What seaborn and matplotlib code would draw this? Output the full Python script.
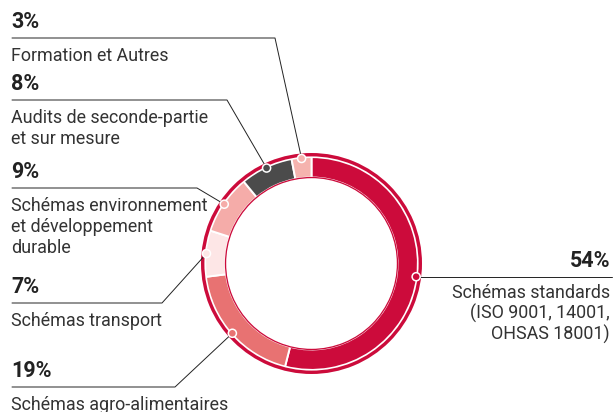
import numpy as np
import matplotlib
matplotlib.use("Agg")
import matplotlib.pyplot as plt
import seaborn as sns
import pandas as pd

# ---- data ----
categories = [
    "Schémas standards\n(ISO 9001, 14001,\nOHSAS 18001)",
    "Schémas agro-alimentaires",
    "Schémas transport",
    "Schémas environnement\net développement\ndurable",
    "Audits de seconde-partie\net sur mesure",
    "Formation et Autres",
]
shares = [54, 19, 7, 9, 8, 3]
pct_labels = ["54%", "19%", "7%", "9%", "8%", "3%"]

# ---- styles ----
RED = "#cc0b3b"
seg_colors = [RED, "#e87272", "#fde6e6", "#f5aca9", "#4b4b4b", "#f5b3ae"]

sns.set_theme(style="white")
plt.rcParams["font.family"] = ["Roboto", "DejaVu Sans"]

W, H = 613, 412
fig = plt.figure(figsize=(W / 100, H / 100), dpi=100)
ax = fig.add_axes([0, 0, 1, 1])

cx, cy_pix = 311.5, 263.5
cy = H - cy_pix
R_out = 110.5
R_seg = 106.4
R_in = 86.0

# segments
ax.pie(shares, radius=R_seg, center=(cx, cy), startangle=90, counterclock=False,
       colors=seg_colors,
       wedgeprops=dict(width=R_seg - R_in, edgecolor="white", linewidth=1.4))
# outer thin ring
ax.pie([1], radius=R_out, center=(cx, cy), colors=[RED],
       wedgeprops=dict(width=3.4, linewidth=0))
# inner thin red line
ax.pie([1], radius=R_in + 0.6, center=(cx, cy), colors=[RED],
       wedgeprops=dict(width=1.3, linewidth=0))

# marker positions at segment midpoints
vals = np.array(shares, dtype=float)
cum = np.cumsum(vals) - vals / 2
ang = np.deg2rad(90 - cum / vals.sum() * 360)
R_mark = 105.5
mx = cx + R_mark * np.cos(ang)
my = cy + R_mark * np.sin(ang)

# layout for labels: (line y in pixel, elbow x, side)
layout = [
    (271.7, None, "right"),
    (387.0, 175, "left"),
    (303.0, 162, "left"),
    (188.0, 197, "left"),
    (100.0, 227, "left"),
    (38.0, 275, "left"),
]
LINE_C = "#222222"
FS_PCT = 15.5
FS_TXT = 12.9
for i, (ly_pix, ex, side) in enumerate(layout):
    ly = H - ly_pix
    if side == "right":
        ax.plot([mx[i], 612], [my[i], my[i]], color=LINE_C, lw=0.7, zorder=3)
        ly = my[i]
        ax.text(610, ly + 10, pct_labels[i], ha="right", va="baseline",
                fontsize=FS_PCT, fontweight="bold", color="#222222")
        for j, line in enumerate(categories[i].split("\n")):
            ax.text(610, ly - 21.5 - 21 * j, line, ha="right", va="baseline",
                    fontsize=FS_TXT, color="#333333")
    else:
        ax.plot([12, ex, mx[i]], [ly, ly, my[i]], color=LINE_C, lw=0.7, zorder=3)
        ax.text(11, ly + 10, pct_labels[i], ha="left", va="baseline",
                fontsize=FS_PCT, fontweight="bold", color="#222222")
        for j, line in enumerate(categories[i].split("\n")):
            ax.text(11, ly - 23 - 21 * j, line, ha="left", va="baseline",
                    fontsize=FS_TXT, color="#333333")

df = pd.DataFrame({"x": mx, "y": my, "cat": categories})
sns.scatterplot(data=df, x="x", y="y", hue="cat",
                palette=dict(zip(categories, seg_colors)),
                s=34, edgecolor="white", linewidth=1.1, legend=False,
                ax=ax, zorder=5)

ax.set_xlim(0, W)
ax.set_ylim(0, H)
ax.set_aspect("equal")
ax.axis("off")
fig.savefig("out.png", dpi=100)
